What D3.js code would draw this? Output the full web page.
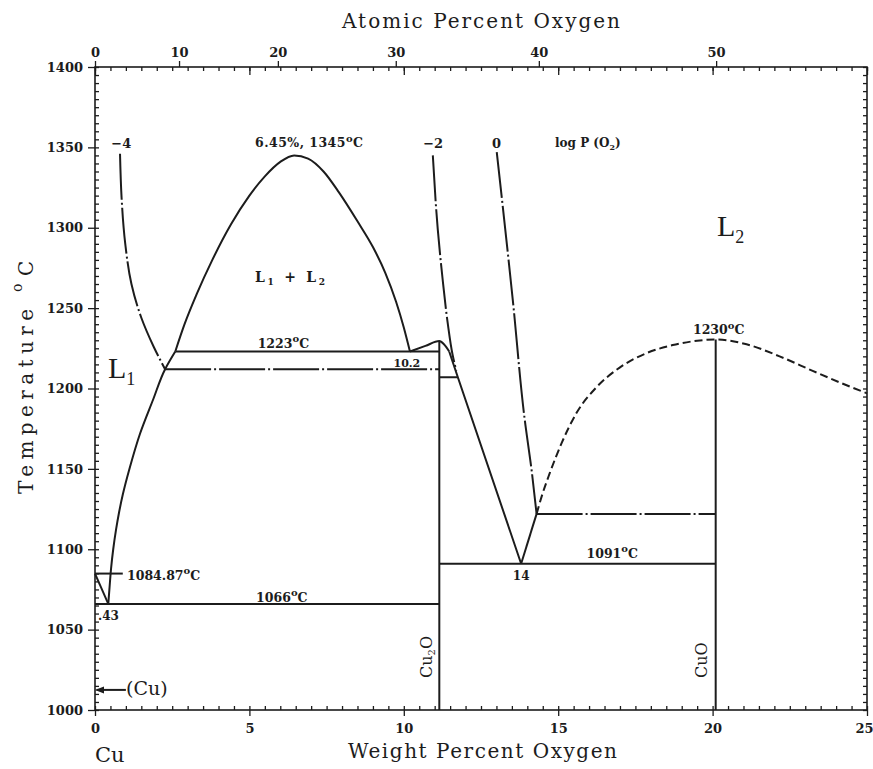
<!DOCTYPE html>
<html>
<head>
<meta charset="utf-8">
<title>Cu-O phase diagram</title>
<style>
  body { margin: 0; background: #fff; }
  text { font-family: "DejaVu Serif", "Liberation Serif", serif; fill: #1c1c1c; }
  .axis text { font-size: 13px; font-weight: bold; font-family: "DejaVu Serif", serif; }
  .axis line { stroke: #1c1c1c; stroke-width: 1.3; }
  .axis path { display: none; }
  .frame { fill: none; stroke: #1c1c1c; stroke-width: 1.6; }
  .ph { fill: none; stroke: #1c1c1c; stroke-width: 2; }
  .dashdot { stroke-dasharray: 46,3,2,3; }
  .dashed { stroke-dasharray: 8,4; }
  .ann { font-weight: bold; }
  .title { font-size: 20px; }
</style>
</head>
<body>
<svg width="873" height="769"></svg>
<script src="https://cdn.jsdelivr.net/npm/d3@7"></script>
<script>

// tick values
var wtTicks = [0, 5, 10, 15, 20, 25];
var atTicks = [0, 10, 20, 30, 40, 50];
var tempTicks = [1000, 1050, 1100, 1150, 1200, 1250, 1300, 1350, 1400];

// phase boundaries, [wt% O, temperature C]
var gapDome = [[2.6, 1223], [2.9, 1240], [3.3, 1259], [3.8, 1280], [4.4, 1302], [5.0, 1320],
               [5.5, 1332], [6.0, 1341], [6.45, 1345], [6.9, 1343], [7.4, 1335], [7.9, 1322],
               [8.5, 1304], [9.0, 1288], [9.4, 1272], [9.75, 1254], [10.0, 1238], [10.2, 1223]];
var liqL1 = [[0.43, 1066], [0.47, 1076], [0.52, 1088], [0.59, 1100], [0.68, 1112], [0.78, 1123],
             [0.9, 1134], [1.13, 1151], [1.46, 1172], [1.88, 1193], [2.27, 1212], [2.6, 1223]];
var cuLiquidus = [[0, 1084.87], [0.43, 1066]];
var cu2oHump = [[10.2, 1223], [10.7, 1226.5], [11.15, 1229.5], [11.3, 1227.5], [11.47, 1223]];
var cu2oLiquidus = [[11.47, 1223], [11.75, 1207], [13.8, 1091]];
var vRightArm = [[13.8, 1091], [14.3, 1122]];
var cuoLiquidus = [[14.3, 1122], [14.5, 1135], [14.72, 1147], [15.11, 1166], [15.6, 1185], [16.25, 1201],
                   [16.99, 1213], [17.86, 1222], [18.71, 1227], [19.5, 1229.7], [20.1, 1230.5],
                   [21.1, 1227.5], [22.17, 1220], [23.24, 1211], [24.34, 1202], [25, 1197]];

// oxygen isobars, log P(O2) = -4, -2, 0
var isobarM4 = [[0.81, 1346], [0.86, 1319], [0.98, 1290], [1.18, 1265], [1.5, 1244], [1.9, 1226], [2.27, 1212]];
var isobarM2 = [[10.94, 1345], [11.1, 1299], [11.26, 1267.5], [11.42, 1241], [11.58, 1221], [11.7, 1211]];
var isobar0 = [[13.01, 1347], [13.53, 1255], [13.92, 1180], [14.14, 1149], [14.3, 1122]];

// horizontals and compounds
var monotectic = [[2.6, 1223], [11.15, 1223]];
var line1212 = [[2.27, 1212], [11.15, 1212]];
var line1207 = [[11.15, 1207], [11.75, 1207]];
var eutectic1066 = [[0, 1066], [11.15, 1066]];
var eutectic1091 = [[11.15, 1091], [20.1, 1091]];
var line1122 = [[14.3, 1122], [20.1, 1122]];
var cu2oLine = [[11.15, 1229.5], [11.15, 1000]];
var cuoLine = [[20.1, 1230.5], [20.1, 1000]];
var line108487 = [[0, 1084.87], [0.9, 1084.87]];
var cuArrow = [[0.05, 1012.5], [1.0, 1012.5]];

var svg = d3.select("svg");

var x = d3.scaleLinear().domain([0, 25]).range([95, 867]),
    y = d3.scaleLinear().domain([1000, 1400]).range([710, 67]);

// atomic % -> weight % O
function atToWt(a) { return 100 * 16.00 * a / (16.00 * a + 63.546 * (100 - a)); }
var xAt = d3.scaleLinear().domain(atTicks).range(atTicks.map(function(a) { return x(atToWt(a)); }));

var line = d3.line().x(function(d) { return x(d[0]); }).y(function(d) { return y(d[1]); });
var smoothX = d3.line().x(function(d) { return x(d[0]); }).y(function(d) { return y(d[1]); })
    .curve(d3.curveMonotoneX);
var smoothY = d3.line().x(function(d) { return x(d[0]); }).y(function(d) { return y(d[1]); })
    .curve(d3.curveMonotoneY);

// axes
var minorT = d3.range(1000, 1401, 5), minorW = d3.range(0, 25.01, 0.5);
var fmt = d3.format("d");

svg.append("g").attr("class", "axis").attr("transform", "translate(95,0)")
    .call(d3.axisLeft(y).tickValues(minorT).tickSize(-4).tickFormat(""));
svg.append("g").attr("class", "axis").attr("transform", "translate(95,0)")
    .call(d3.axisLeft(y).tickValues(tempTicks).tickSize(7).tickPadding(5).tickFormat(fmt));
svg.append("g").attr("class", "axis").attr("transform", "translate(867,0)")
    .call(d3.axisRight(y).tickValues(minorT).tickSize(-4).tickFormat(""));

svg.append("g").attr("class", "axis").attr("transform", "translate(0,710)")
    .call(d3.axisBottom(x).tickValues(minorW).tickSize(-4).tickFormat(""));
var bx = svg.append("g").attr("class", "axis").attr("transform", "translate(0,710)")
    .call(d3.axisBottom(x).tickValues(wtTicks).tickSize(6).tickPadding(8).tickFormat(fmt));
// last label sits at the window edge
bx.selectAll(".tick text").filter(function(d) { return d === 25; })
    .attr("text-anchor", "end").attr("x", 6);

svg.append("g").attr("class", "axis").attr("transform", "translate(0,67)")
    .call(d3.axisTop(x).tickValues(minorW).tickSize(-4).tickFormat(""));
svg.append("g").attr("class", "axis").attr("transform", "translate(0,67)")
    .call(d3.axisTop(x).tickValues(wtTicks).tickSize(-8).tickFormat(""));
svg.append("g").attr("class", "axis").attr("transform", "translate(0,67)")
    .call(d3.axisTop(xAt).tickValues(atTicks).tickSize(6).tickPadding(4).tickFormat(fmt));

svg.append("rect").attr("class", "frame")
    .attr("x", 95).attr("y", 67).attr("width", 867 - 95).attr("height", 710 - 67);

// phase lines
var plot = svg.append("g");
function draw(data, gen, cls) {
    plot.append("path").datum(data).attr("class", "ph " + (cls || "")).attr("d", gen);
}
draw(gapDome, smoothX);
draw(liqL1, smoothY);
draw(cuLiquidus, line);
draw(cu2oHump, smoothX);
draw(cu2oLiquidus, line);
draw(vRightArm, line);
draw(cuoLiquidus, smoothX, "dashed");
draw(isobarM4, smoothY, "dashdot");
draw(isobarM2, smoothY, "dashdot");
draw(isobar0, smoothY, "dashdot");
draw(monotectic, line);
draw(line1212, line, "dashdot");
draw(line1207, line);
draw(eutectic1066, line);
draw(eutectic1091, line);
draw(line1122, line, "dashdot");
draw(cu2oLine, line);
draw(cuoLine, line);
draw(line108487, line);
draw(cuArrow, line);
plot.append("path")
    .attr("d", "M" + x(0) + "," + y(1012.5) + "l9,-3.5l0,7z")
    .attr("fill", "#1c1c1c");

// labels
function degLabel(val, px, py, size, anchor) {
    var t = svg.append("text").attr("class", "ann").attr("x", px).attr("y", py)
        .attr("text-anchor", anchor || "middle").style("font-size", size + "px");
    t.append("tspan").text(val);
    t.append("tspan").text("o").attr("dy", -size * 0.45).style("font-size", (size * 0.8) + "px");
    t.append("tspan").text("C").attr("dy", size * 0.45);
    return t;
}
function plain(str, px, py, size, anchor, bold) {
    return svg.append("text").attr("class", bold ? "ann" : null).attr("x", px).attr("y", py)
        .attr("text-anchor", anchor || "middle").style("font-size", size + "px").text(str);
}
function subLabel(main, sub, px, py, size, subSize) {
    var t = svg.append("text").attr("x", px).attr("y", py)
        .style("font-size", size + "px").style("font-family", "Liberation Serif");
    t.append("tspan").text(main);
    t.append("tspan").text(sub).attr("dy", size * 0.22).style("font-size", subSize + "px");
    return t;
}

degLabel("6.45%, 1345", 309, y(1345) - 8, 12.5).attr("textLength", 108);
degLabel("1223", x(6.1), y(1223) - 4, 12.5);
degLabel("1230", x(20.1) + 3, y(1230) - 6, 12.5);
degLabel("1091", x(16.75), y(1091) - 6, 12.5);
degLabel("1066", x(6.05), y(1066) - 2, 12.5);
degLabel("1084.87", x(0) + 32, y(1084.87) + 6, 12.5, "start");
plain("10.2", x(10.1), y(1212) - 2, 11, "middle", true);
plain("14", x(13.8), y(1091) + 16, 12, "middle", true);
plain(".43", x(0) + 3, y(1066) + 16, 12, "start", true);
plain("(Cu)", x(0) + 31, 695, 19, "start");
plain("Cu", 95, 762, 21, "start");

plain("\u22124", x(0.85), 148, 13, "middle", true);
plain("\u22122", x(10.95), 148, 13, "middle", true);
plain("0", x(13.0), 148, 13, "middle", true);
var lp = plain("log P (O", 555, 147, 12, "start", true);
lp.append("tspan").text("2").attr("dy", 3).style("font-size", "8px");
lp.append("tspan").text(")").attr("dy", -3);

// L1, L2, L1 + L2
subLabel("L", "1", 108, 378, 30, 18);
subLabel("L", "2", 717, 236, 30, 18);
var lab = svg.append("text").attr("class", "ann").attr("x", 255).attr("y", 282)
    .style("font-size", "14px").attr("textLength", 70);
lab.append("tspan").text("L");
lab.append("tspan").text("1").attr("dy", 3).style("font-size", "9px");
lab.append("tspan").text(" + L").attr("dy", -3);
lab.append("tspan").text("2").attr("dy", 3).style("font-size", "9px");

// compounds (vertical text)
var c2 = svg.append("text").attr("transform", "translate(432,678) rotate(-90)").style("font-size", "16px");
c2.append("tspan").text("Cu");
c2.append("tspan").text("2").attr("dy", 3).style("font-size", "10px");
c2.append("tspan").text("O").attr("dy", -3);
svg.append("text").attr("transform", "translate(707,678) rotate(-90)").style("font-size", "16px").text("CuO");

// axis titles
svg.append("text").attr("class", "title").attr("x", 342).attr("y", 28)
    .attr("textLength", 278).attr("lengthAdjust", "spacing").text("Atomic Percent Oxygen");
svg.append("text").attr("class", "title").attr("x", 348).attr("y", 758)
    .attr("textLength", 269).attr("lengthAdjust", "spacing").text("Weight Percent Oxygen");
svg.append("text").attr("class", "title").attr("transform", "translate(33,494) rotate(-90)")
    .attr("textLength", 185).attr("lengthAdjust", "spacing").text("Temperature");
svg.append("text").attr("transform", "translate(22,292) rotate(-90)").style("font-size", "14px").text("o");
svg.append("text").attr("class", "title").attr("transform", "translate(33,276) rotate(-90)").text("C");

</script>
</body>
</html>
